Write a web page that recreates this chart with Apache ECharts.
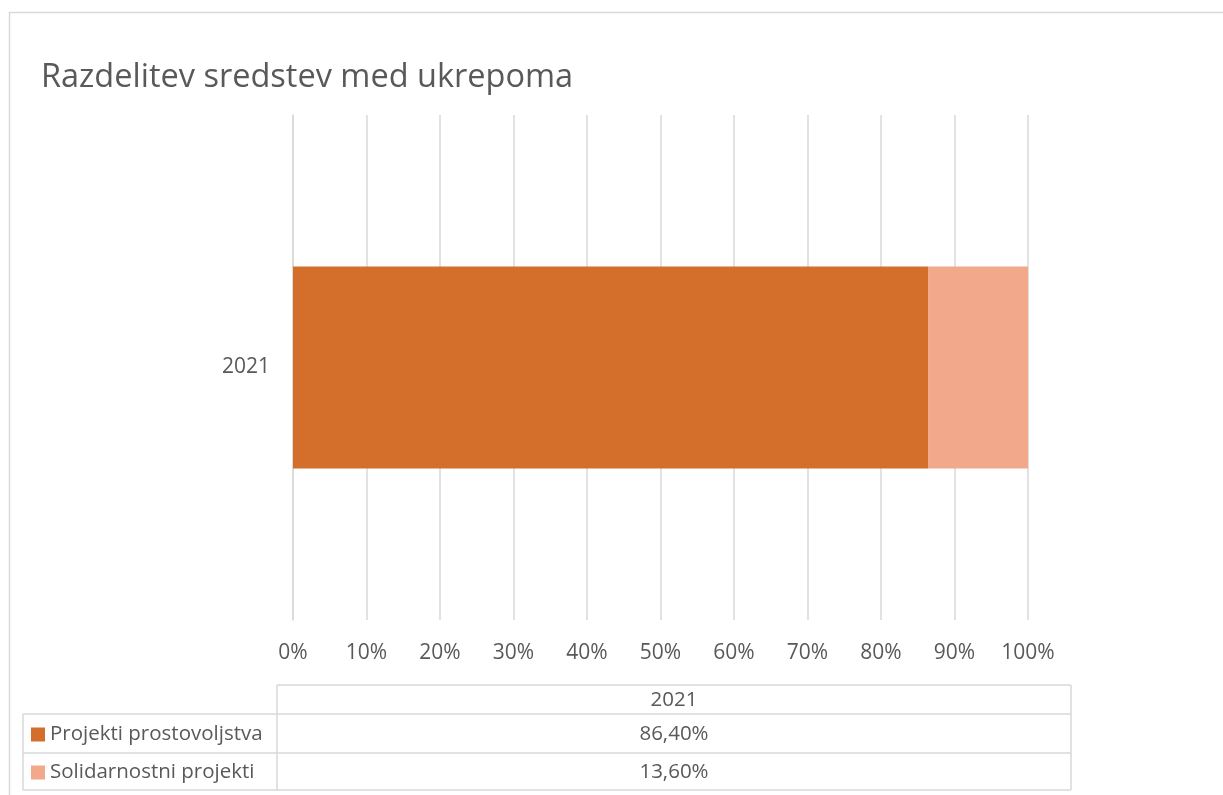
<!DOCTYPE html>
<html>
<head>
<meta charset="utf-8">
<script src="https://cdn.jsdelivr.net/npm/echarts@6/dist/echarts.min.js"></script>
<style>
html,body{margin:0;padding:0;background:#fff;}
#c{width:1223px;height:795px;}
</style>
</head>
<body>
<div id="c"></div>
<script>
const title = 'Razdelitev sredstev med ukrepoma';
const categories = ['2021'];
const seriesNames = ['Projekti prostovoljstva', 'Solidarnostni projekti'];
const volunteering = [86.4];
const solidarity = [13.6];
const tickValues = [0, 10, 20, 30, 40, 50, 60, 70, 80, 90, 100];
const colors = ['#D36F2B', '#F1A88B'];

const FONT = '"Open Sans", "Noto Sans", sans-serif';
const TXT = '#595959';
const LINE = '#D9D9D9';

const chart = echarts.init(document.getElementById('c'), null, {renderer: 'canvas'});

function fmt(v) { return v.toFixed(2).replace('.', ',') + '%'; }

// table geometry
const tL = 23, tM = 277, tR = 1071;
const rowsY = [685, 714, 753, 790];
const seriesValues = [volunteering, solidarity];

const graphic = [];
graphic.push({type: 'rect', shape: {x: 9.5, y: 12.5, width: 1240, height: 800}, style: {fill: 'none', stroke: LINE, lineWidth: 1.5}, silent: true});
function hline(x1, x2, y) { graphic.push({type: 'line', shape: {x1: x1, y1: y, x2: x2, y2: y}, style: {stroke: LINE, lineWidth: 1.5}, silent: true}); }
function vline(x, y1, y2) { graphic.push({type: 'line', shape: {x1: x, y1: y1, x2: x, y2: y2}, style: {stroke: LINE, lineWidth: 1.5}, silent: true}); }
hline(tM, tR, rowsY[0]);
hline(tL, tR, rowsY[1]);
hline(tL, tR, rowsY[2]);
hline(tL, tR, rowsY[3]);
vline(tL, rowsY[1], rowsY[3]);
vline(tM, rowsY[0], rowsY[3]);
vline(tR, rowsY[0], rowsY[3]);
const tf = '20.5px ' + FONT;
graphic.push({type: 'text', x: (tM + tR) / 2, y: (rowsY[0] + rowsY[1]) / 2 + 1, style: {text: categories[0], fill: TXT, font: tf, textAlign: 'center', textVerticalAlign: 'middle'}, silent: true});
for (let i = 0; i < seriesNames.length; i++) {
  const cy = (rowsY[i + 1] + rowsY[i + 2]) / 2 + 1;
  graphic.push({type: 'rect', shape: {x: 31, y: cy - 7, width: 14, height: 14}, style: {fill: colors[i]}, silent: true});
  graphic.push({type: 'text', x: 50, y: cy, style: {text: seriesNames[i], fill: TXT, font: tf, textAlign: 'left', textVerticalAlign: 'middle'}, silent: true});
  graphic.push({type: 'text', x: (tM + tR) / 2, y: cy, style: {text: fmt(seriesValues[i][0]), fill: TXT, font: tf, textAlign: 'center', textVerticalAlign: 'middle'}, silent: true});
}

chart.setOption({
  animation: false,
  backgroundColor: '#fff',
  title: {
    text: title,
    left: 36, top: 56,
    textStyle: {color: TXT, fontFamily: FONT, fontWeight: 'normal', fontSize: 32.5}
  },
  grid: {left: 293, right: 195, top: 115, bottom: 175, containLabel: false},
  xAxis: {
    type: 'value', min: 0, max: 100, interval: 10,
    axisLine: {show: false}, axisTick: {show: false},
    splitLine: {show: true, lineStyle: {color: LINE, width: 1.5}},
    axisLabel: {color: TXT, fontFamily: FONT, fontSize: 21, margin: 23, formatter: '{value}%'}
  },
  yAxis: {
    type: 'category', data: categories,
    axisLine: {show: true, lineStyle: {color: LINE, width: 1.5}},
    axisTick: {show: false},
    axisLabel: {color: TXT, fontFamily: FONT, fontSize: 21, margin: 23}
  },
  series: [
    {name: seriesNames[0], type: 'bar', stack: 'a', data: volunteering, barWidth: '40%', itemStyle: {color: colors[0]}},
    {name: seriesNames[1], type: 'bar', stack: 'a', data: solidarity, barWidth: '40%', itemStyle: {color: colors[1]}}
  ],
  graphic: graphic
});
</script>
</body>
</html>
